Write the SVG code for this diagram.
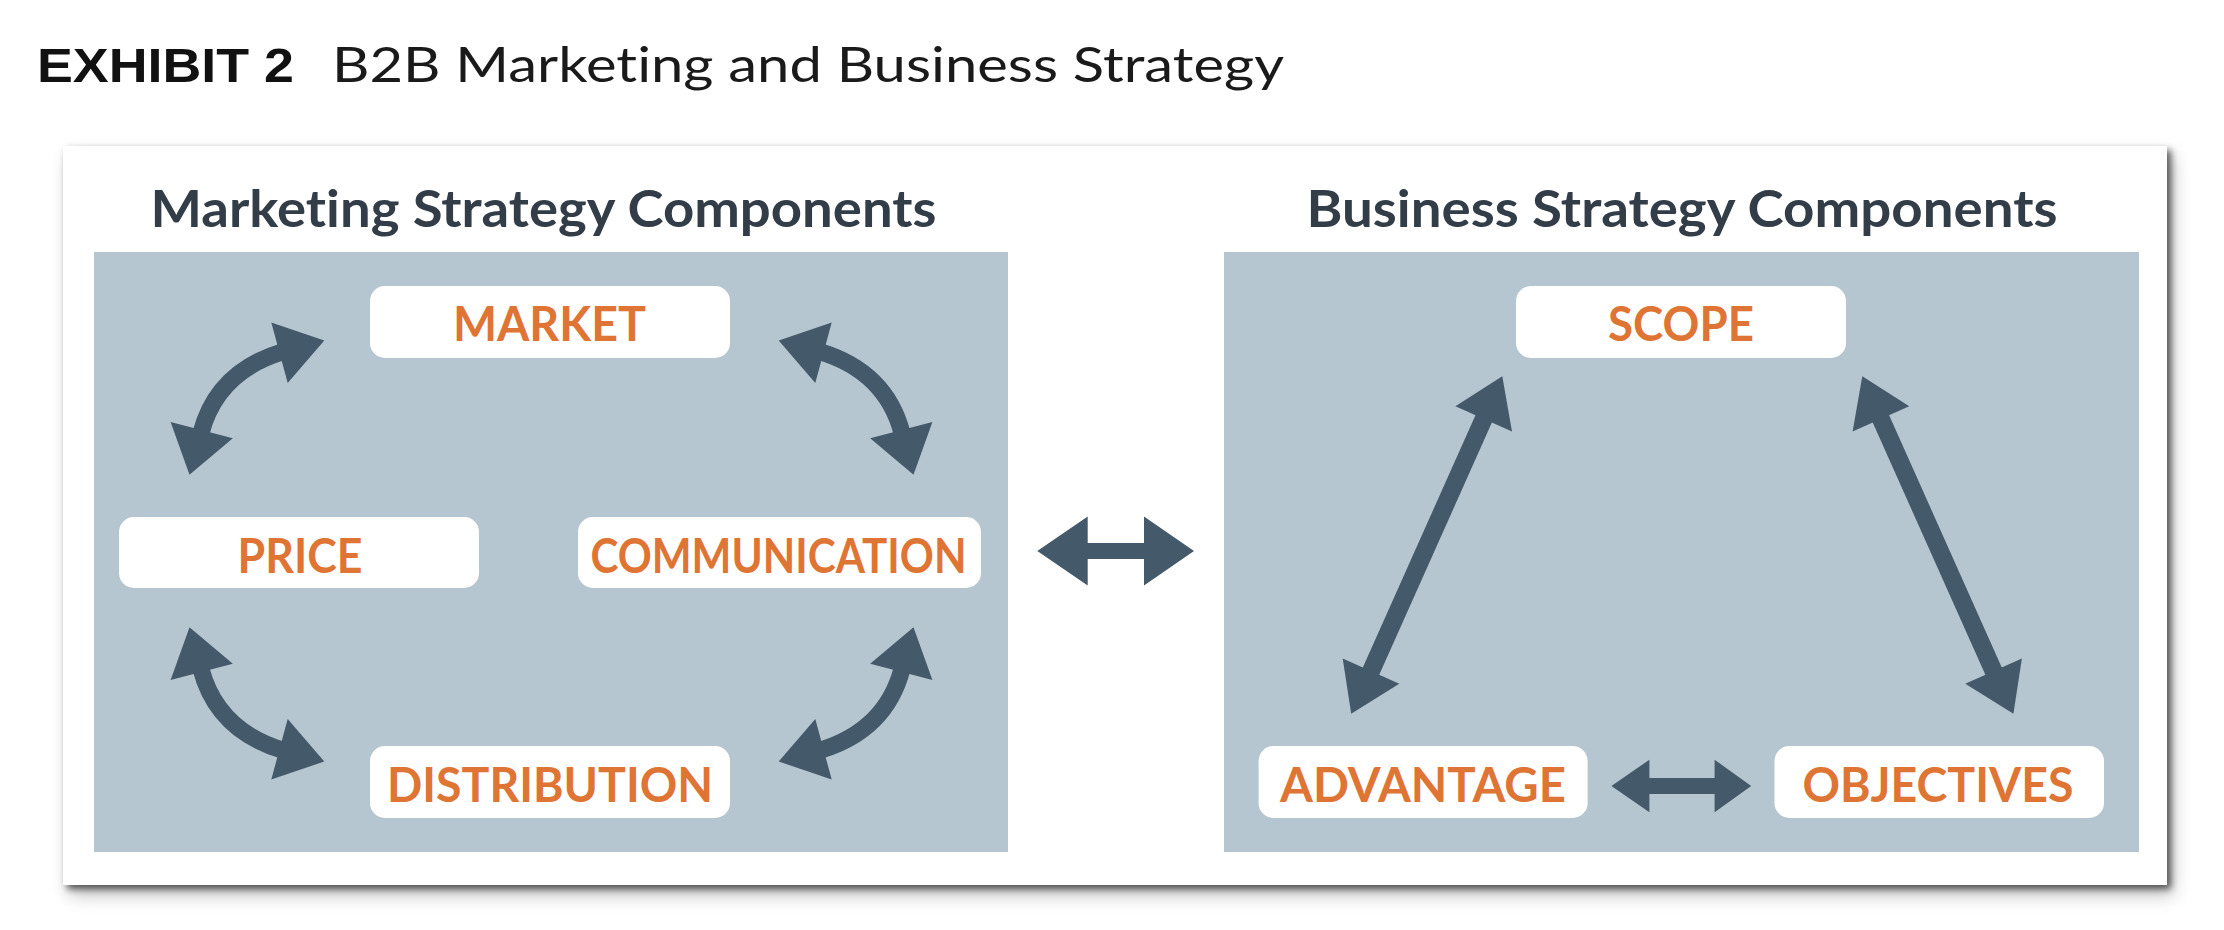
<svg xmlns="http://www.w3.org/2000/svg" xmlns:xlink="http://www.w3.org/1999/xlink" width="2224" height="930" viewBox="0 0 2224 930">
  <defs>
    <style>
      text { font-variant-ligatures: none; font-feature-settings: "liga" 0, "clig" 0; }
      .exhibit { font-family: "Liberation Sans", Arial, sans-serif; font-weight: 700; font-size: 48px; fill: #111111; }
      .subtitle { font-family: "Lato", "Open Sans", "Liberation Sans", sans-serif; font-weight: 400; font-size: 48px; fill: #1a1a1a; }
      .panel-title { font-family: "Lato", "Open Sans", "Liberation Sans", sans-serif; font-weight: 700; font-size: 51px; fill: #323d48; }
      .panel { fill: #b6c6d1; }
      .node-box { fill: #ffffff; }
      .node-label { font-family: "Lato", "Open Sans", "Liberation Sans", sans-serif; font-weight: 700; font-size: 47px; fill: #df7534; text-anchor: middle; }
      .arrow-fill { fill: #44596a; }
      .arrow-shaft { fill: none; stroke: #44596a; stroke-width: 17; stroke-linecap: butt; }
      .arrow-shaft.thick { stroke-width: 18; }
    </style>
    <filter id="cardShadow" x="-5%" y="-10%" width="110%" height="125%">
      <feGaussianBlur in="SourceAlpha" stdDeviation="9" result="wide"/>
      <feOffset in="wide" dx="6" dy="10" result="wideOff"/>
      <feComponentTransfer in="wideOff" result="wideSoft">
        <feFuncA type="linear" slope="0.25"/>
      </feComponentTransfer>
      <feGaussianBlur in="SourceAlpha" stdDeviation="3.5" result="tight"/>
      <feOffset in="tight" dx="4" dy="4" result="tightOff"/>
      <feComponentTransfer in="tightOff" result="tightSoft">
        <feFuncA type="linear" slope="0.6"/>
      </feComponentTransfer>
      <feMerge>
        <feMergeNode in="wideSoft"/>
        <feMergeNode in="tightSoft"/>
        <feMergeNode in="SourceGraphic"/>
      </feMerge>
    </filter>
    <!-- curved double-headed arrow (upper-left quadrant); the others are mirrored -->
    <g id="curveArrow">
      <path class="arrow-shaft" d="M201,433 Q217,372 282.3,351.9"/>
      <polygon class="arrow-fill" points="324.3,340.5 271.3,322.5 287.7,383"/>
      <polygon class="arrow-fill" points="189.5,474.7 170.6,422 232.8,438.3"/>
    </g>
    <!-- straight diagonal double-headed arrow (left side of the triangle) -->
    <g id="diagArrow">
      <line class="arrow-shaft thick" x1="1369.8" y1="673.8" x2="1484.9" y2="416.2"/>
      <polygon class="arrow-fill" points="1502.3,376.3 1512.0,431.5 1455.4,406.3"/>
      <polygon class="arrow-fill" points="1351.2,713.7 1399.3,683.7 1342.7,658.5"/>
    </g>
  </defs>

  <rect x="0" y="0" width="2224" height="930" fill="#ffffff"/>

  <g id="title">
    <text class="exhibit" x="37" y="82" textLength="257" lengthAdjust="spacingAndGlyphs">EXHIBIT 2</text>
    <text class="subtitle" x="332" y="82" textLength="952" lengthAdjust="spacingAndGlyphs">B2B Marketing and Business Strategy</text>
  </g>

  <g id="card">
    <rect x="63" y="146" width="2104" height="739" fill="#ffffff" filter="url(#cardShadow)"/>
  </g>

  <g id="marketing-panel">
    <rect class="panel" x="94" y="252" width="914" height="600"/>
    <text class="panel-title" x="150.5" y="227" textLength="786" lengthAdjust="spacingAndGlyphs">Marketing Strategy Components</text>
  </g>

  <g id="business-panel">
    <rect class="panel" x="1224" y="252" width="915" height="600"/>
    <text class="panel-title" x="1306.5" y="227" textLength="751" lengthAdjust="spacingAndGlyphs">Business Strategy Components</text>
  </g>

  <g id="node-market">
    <rect class="node-box" x="370" y="286" width="360" height="72" rx="15"/>
    <text class="node-label" x="549.5" y="341" textLength="193" lengthAdjust="spacingAndGlyphs">MARKET</text>
  </g>
  <g id="node-price">
    <rect class="node-box" x="119" y="517" width="360" height="71" rx="15"/>
    <text class="node-label" x="300" y="572.7" textLength="125" lengthAdjust="spacingAndGlyphs">PRICE</text>
  </g>
  <g id="node-communication">
    <rect class="node-box" x="578" y="517" width="403" height="71" rx="15"/>
    <text class="node-label" x="778.4" y="572.7" textLength="376" lengthAdjust="spacingAndGlyphs">COMMUNICATION</text>
  </g>
  <g id="node-distribution">
    <rect class="node-box" x="370" y="746" width="360" height="72" rx="15"/>
    <text class="node-label" x="550" y="801.7" textLength="326" lengthAdjust="spacingAndGlyphs">DISTRIBUTION</text>
  </g>

  <g id="node-scope">
    <rect class="node-box" x="1516" y="286" width="330" height="72" rx="15"/>
    <text class="node-label" x="1681" y="341" textLength="146" lengthAdjust="spacingAndGlyphs">SCOPE</text>
  </g>
  <g id="node-advantage">
    <rect class="node-box" x="1258.6" y="746" width="329" height="72" rx="15"/>
    <text class="node-label" x="1423" y="801.7" textLength="286" lengthAdjust="spacingAndGlyphs">ADVANTAGE</text>
  </g>
  <g id="node-objectives">
    <rect class="node-box" x="1774.5" y="746" width="329.5" height="72" rx="15"/>
    <text class="node-label" x="1938" y="801.7" textLength="271" lengthAdjust="spacingAndGlyphs">OBJECTIVES</text>
  </g>

  <g id="connectors">
    <!-- marketing cycle -->
    <use xlink:href="#curveArrow"/>
    <use xlink:href="#curveArrow" transform="translate(1103,0) scale(-1,1)"/>
    <use xlink:href="#curveArrow" transform="translate(0,1102) scale(1,-1)"/>
    <use xlink:href="#curveArrow" transform="translate(1103,1102) scale(-1,-1)"/>
    <!-- link between the two panels -->
    <polygon class="arrow-fill" points="1037.3,551 1087.7,516.5 1087.7,543 1144,543 1144,516.5 1194,551 1144,585.5 1144,559 1087.7,559 1087.7,585.5"/>
    <!-- business triangle -->
    <use xlink:href="#diagArrow"/>
    <use xlink:href="#diagArrow" transform="translate(3364.6,0) scale(-1,1)"/>
    <polygon class="arrow-fill" points="1611.4,786 1649.4,759.7 1649.4,778 1714.6,778 1714.6,759.7 1751.2,786 1714.6,812.3 1714.6,794 1649.4,794 1649.4,812.3"/>
  </g>
</svg>
